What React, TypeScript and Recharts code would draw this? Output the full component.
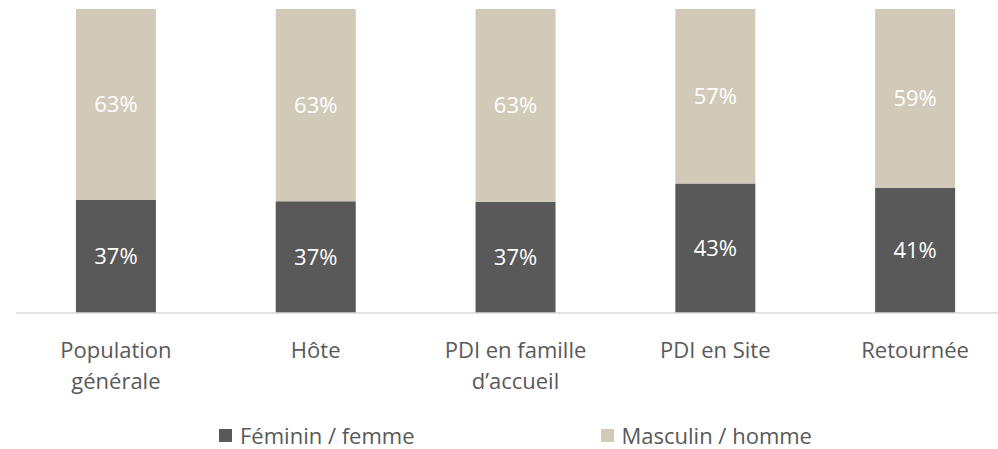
import React from 'react';
import { BarChart, Bar, XAxis, YAxis, Legend, LabelList } from 'recharts';

// categories (line breaks as in the picture)
const categories = ['Population\ngénérale', 'Hôte', 'PDI en famille\nd’accueil', 'PDI en Site', 'Retournée'];
const feminin = [37.2, 36.8, 36.6, 42.6, 41.1];
const masculin = [62.8, 63.2, 63.4, 57.4, 58.9];

const FEM_COLOR = '#595959';
const MASC_COLOR = '#D2CAB8';
const FONT = '"Segoe UI", "Open Sans", sans-serif';

const data = categories.map((name, i) => ({
  name,
  feminin: feminin[i],
  masculin: masculin[i],
}));

const CategoryTick = (props: any) => {
  const { x, y, payload } = props;
  const lines = String(payload.value).split('\n');
  return (
    <g transform={`translate(${x},${y})`}>
      <text textAnchor="middle" fill="#595959" fontSize={22} fontFamily={FONT}>
        {lines.map((l, i) => (
          <tspan key={i} x={0} y={45 + i * 31}>{l}</tspan>
        ))}
      </text>
    </g>
  );
};

const renderLegend = () => (
  <div style={{ display: 'flex', justifyContent: 'center', alignItems: 'center', height: 28, fontFamily: FONT, fontSize: 22, color: '#595959' }}>
    <div style={{ display: 'flex', alignItems: 'center', marginRight: 186 }}>
      <span style={{ width: 13, height: 13, background: FEM_COLOR, display: 'inline-block', marginRight: 8 }} />
      Féminin / femme
    </div>
    <div style={{ display: 'flex', alignItems: 'center' }}>
      <span style={{ width: 13, height: 13, background: MASC_COLOR, display: 'inline-block', marginRight: 8 }} />
      Masculin / homme
    </div>
  </div>
);

const pct = (v: any) => `${Math.round(Number(v))}%`;

export default function App() {
  return (
    <div style={{ position: 'absolute', left: 0, top: 0, width: 998, height: 449, overflow: 'hidden', background: '#fff' }}>
      <BarChart width={1015} height={449} data={data} margin={{ top: 9, right: 0, left: 16, bottom: 0 }} barCategoryGap="30%">
        <XAxis
          dataKey="name"
          axisLine={{ stroke: '#D9D9D9', strokeWidth: 1.5 }}
          tickLine={false}
          tickSize={0}
          tickMargin={0}
          height={108}
          interval={0}
          tick={<CategoryTick />}
        />
        <YAxis hide domain={[0, 100]} />
        <Legend verticalAlign="bottom" height={28} content={renderLegend} />
        <Bar dataKey="feminin" stackId="a" fill={FEM_COLOR} isAnimationActive={false}>
          <LabelList dataKey="feminin" position="center" formatter={pct} fill="#ffffff" fontSize={22} fontFamily={FONT} />
        </Bar>
        <Bar dataKey="masculin" stackId="a" fill={MASC_COLOR} isAnimationActive={false}>
          <LabelList dataKey="masculin" position="center" formatter={pct} fill="#ffffff" fontSize={22} fontFamily={FONT} />
        </Bar>
      </BarChart>
    </div>
  );
}
